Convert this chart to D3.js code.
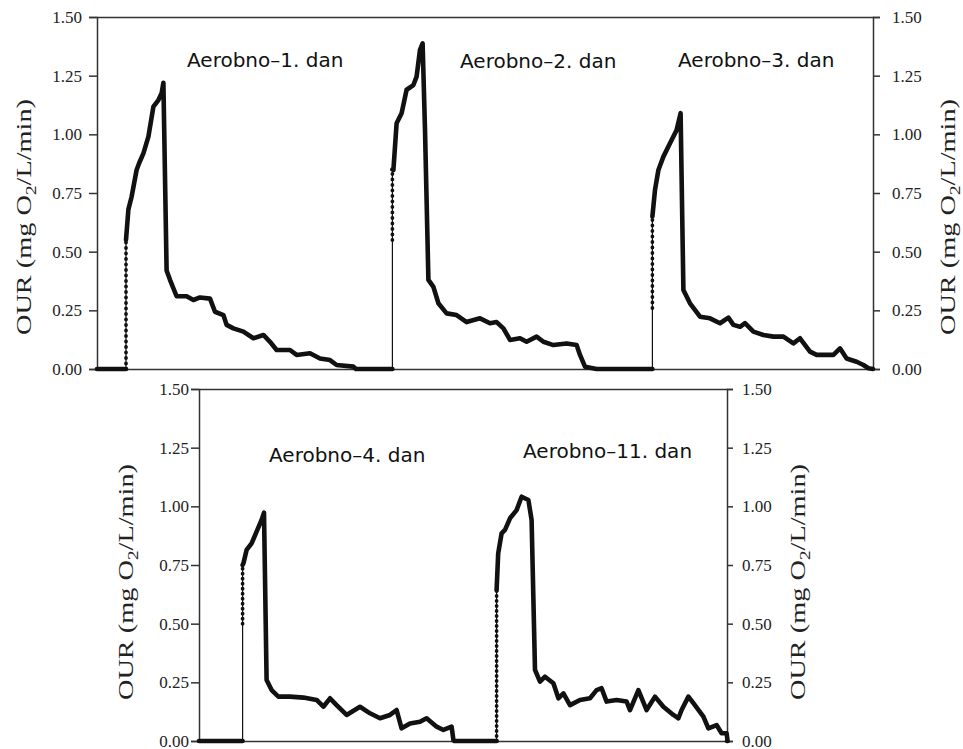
<!DOCTYPE html>
<html>
<head>
<meta charset="utf-8">
<script src="https://cdn.jsdelivr.net/npm/d3@7"></script>
<style>
  html, body { margin: 0; padding: 0; background: #fff; }
  svg { display: block; }
</style>
</head>
<body>
<svg id="chart" width="963" height="749"></svg>
<script>
// ---------------- DATA ----------------
const yTickValues = [0, 0.25, 0.5, 0.75, 1.0, 1.25, 1.5];
const yLabel = "OUR (mg O";
const runLabels = ["Aerobno–1. dan", "Aerobno–2. dan", "Aerobno–3. dan", "Aerobno–4. dan", "Aerobno–11. dan"];

// time axis (arbitrary units) extents of each panel
const topTimeMax = 388;
const bottomTimeMax = 264;

// rise moments (vertical jumps) : time, top of thin part, top of dotted part
const topRiseTimes = [14.5, 147.7, 277.7];
const topRiseThin = [0, 0.55, 0.26];
const topRiseDots = [0.55, 0.85, 0.65];
const bottomRiseTimes = [21.8, 148.8];
const bottomRiseThin = [0.5, 0];
const bottomRiseDots = [0.75, 0.643];

// OUR series after each rise [time, value]
const run1 = [[15.7,0.68],[17.3,0.734],[19.8,0.848],[21.2,0.88],[23.2,0.919],[25.7,0.99],[28.2,1.118],[30.7,1.146],[32.3,1.175],[33.2,1.22],
  [34.8,0.42],[36.5,0.38],[39.8,0.31],[44.8,0.31],[48.2,0.294],[51.5,0.305],[56.5,0.30],[59,0.244],[63.2,0.23],[64.8,0.188],[68.2,0.173],
  [73.2,0.159],[78.2,0.131],[83.2,0.145],[86.5,0.116],[89.8,0.081],[96.5,0.081],[99.8,0.06],[106.5,0.067],[111.5,0.045],[116.5,0.038],
  [119.8,0.017],[128.2,0.01],[129.5,0]];
const run2 = [[148.2,0.848],[149.8,1.047],[152.3,1.09],[154.8,1.19],[158.2,1.21],[159.8,1.246],[161.5,1.36],[162.8,1.388],[164,1.02],
  [165.7,0.38],[168.2,0.35],[170.7,0.28],[174.8,0.237],[179.8,0.23],[184.8,0.20],[191.5,0.216],[196.5,0.195],[199.8,0.20],[203.2,0.173],
  [206.5,0.124],[211.5,0.131],[214.8,0.116],[219.8,0.138],[223.2,0.116],[228.2,0.102],[234.8,0.109],[239.8,0.102],[241.5,0.06],[244,0.01],[249.8,0]];
const run3 = [[279,0.763],[280.7,0.848],[283.2,0.905],[286.5,0.962],[289.8,1.018],[291.8,1.09],[293.2,0.337],[296.5,0.28],[301.5,0.223],
  [306.5,0.216],[311.5,0.195],[315.7,0.219],[318.2,0.188],[321.5,0.18],[324,0.195],[328.2,0.159],[333.2,0.145],[338.2,0.138],[343.2,0.138],
  [348.2,0.109],[351.5,0.131],[356.5,0.074],[359.8,0.06],[364.8,0.06],[368.2,0.06],[371.5,0.088],[374.8,0.045],[379.8,0.031],[383.2,0.017],
  [385.7,0.003],[388,0]];
const run4 = [[22.2,0.757],[23.8,0.814],[26.3,0.842],[28.8,0.892],[31.3,0.942],[32.5,0.973],[33.8,0.26],[36.3,0.217],[39.7,0.189],
  [45.5,0.189],[52.2,0.185],[58.8,0.175],[62.2,0.146],[65.5,0.182],[68.8,0.153],[73.8,0.111],[80.5,0.146],[85.5,0.118],[90.5,0.097],
  [95.5,0.111],[98.8,0.132],[101.3,0.054],[105.5,0.075],[110.5,0.082],[113.8,0.097],[118.8,0.061],[122.2,0.047],[126.3,0.061],[127.2,0.004]];
const run5 = [[149.6,0.80],[151.3,0.885],[153,0.90],[155.5,0.949],[158.8,0.984],[161.3,1.041],[164.7,1.027],[166.3,0.942],[168,0.303],
  [170.5,0.253],[173,0.274],[177.2,0.246],[179.7,0.182],[182.2,0.203],[185.5,0.153],[190.5,0.175],[195.5,0.182],[198.8,0.217],[201.3,0.225],
  [203.8,0.168],[208.8,0.175],[213.8,0.168],[215.5,0.132],[219.7,0.217],[223.8,0.132],[228,0.189],[232.2,0.146],[237.2,0.111],[239.7,0.097],
  [241.3,0.132],[244.7,0.189],[247.2,0.161],[252.2,0.104],[254.7,0.054],[258.8,0.068],[261.3,0.033],[263.8,0.033]];

// ---------------- DRAW ----------------
const svg = d3.select("#chart");
const serif = "'Liberation Serif', 'Times New Roman', serif";
const sans = "'DejaVu Sans', Verdana, Tahoma, sans-serif";

function panel(cfg) {
  const x = d3.scaleLinear().domain([0, cfg.tMax]).range([cfg.left, cfg.right]);
  const y = d3.scaleLinear().domain([0, 1.5]).range([cfg.bottom, cfg.top]);
  const g = svg.append("g");
  const fmt = d3.format(".2f");

  g.append("rect").attr("x", cfg.left).attr("y", cfg.top)
    .attr("width", cfg.right - cfg.left).attr("height", cfg.bottom - cfg.top).attr("fill", "#fff");

  const styleAxis = sel => {
    sel.selectAll("path.domain").attr("stroke", "#333").attr("stroke-width", 1.5);
    sel.selectAll(".tick line").attr("stroke", "#333").attr("stroke-width", 1.5);
    sel.selectAll(".tick text").attr("font-family", serif).attr("font-size", 17).attr("fill", "#222");
    sel.attr("font-family", null).attr("font-size", null);
  };

  g.append("g").attr("transform", `translate(0,${cfg.bottom})`)
    .call(d3.axisBottom(x).tickValues([]).tickSizeOuter(0)).call(styleAxis);
  g.append("g").attr("transform", `translate(0,${cfg.top})`)
    .call(d3.axisTop(x).tickValues([]).tickSizeOuter(0)).call(styleAxis);
  g.append("g").attr("transform", `translate(${cfg.left},0)`)
    .call(d3.axisLeft(y).tickValues(yTickValues).tickFormat(fmt).tickSizeOuter(0)
      .tickSize(cfg.tickL).tickPadding(cfg.padL)).call(styleAxis);
  g.append("g").attr("transform", `translate(${cfg.right},0)`)
    .call(d3.axisRight(y).tickValues(yTickValues).tickFormat(fmt).tickSizeOuter(0)
      .tickSize(cfg.tickR).tickPadding(cfg.padR)).call(styleAxis);

  // axis titles
  [cfg.labelL, cfg.labelR].forEach(bx => {
    const t = g.append("text")
      .attr("transform", `translate(${bx},${cfg.labelY}) rotate(-90)`)
      .attr("text-anchor", "middle")
      .attr("textLength", 236).attr("lengthAdjust", "spacingAndGlyphs")
      .attr("font-family", serif).attr("font-size", 22).attr("fill", "#222");
    t.append("tspan").text(yLabel);
    t.append("tspan").text("2").attr("font-size", 15).attr("dy", 5);
    t.append("tspan").text("/L/min)").attr("dy", -5);
  });

  // rises: thin line + dotted part
  cfg.riseTimes.forEach((t, i) => {
    g.append("line").attr("x1", x(t)).attr("x2", x(t))
      .attr("y1", y(0)).attr("y2", y(cfg.riseDots[i]))
      .attr("stroke", "#111").attr("stroke-width", 1.2);
    g.append("line").attr("x1", x(t)).attr("x2", x(t))
      .attr("y1", y(cfg.riseThin[i])).attr("y2", y(cfg.riseDots[i]))
      .attr("stroke", "#111").attr("stroke-width", 3.8)
      .attr("stroke-linecap", "round").attr("stroke-dasharray", "0," + cfg.dotGap);
  });

  // thick curve segments
  const segs = [];
  segs.push([[0, 0], [cfg.riseTimes[0], 0]]);
  cfg.runs.forEach((run, i) => {
    const s = [[cfg.riseTimes[i], cfg.riseDots[i]], ...run];
    const last = run[run.length - 1];
    const nextT = i + 1 < cfg.riseTimes.length ? cfg.riseTimes[i + 1] : cfg.tMax;
    if (last[1] !== 0 || last[0] < nextT) {
      s.push([last[0] + 0.5, 0]);
      s.push([nextT, 0]);
    }
    segs.push(s);
  });
  const line = d3.line().x(d => x(d[0])).y(d => y(d[1])).curve(d3.curveLinear);
  g.selectAll("path.seg").data(segs).join("path").attr("class", "seg")
    .attr("d", line).attr("fill", "none").attr("stroke", "#111")
    .attr("stroke-width", 4.6).attr("stroke-linejoin", "round").attr("stroke-linecap", "round");

  // run labels
  cfg.labels.forEach((lab, i) => {
    g.append("text").attr("x", cfg.labelPos[i][0]).attr("y", cfg.labelPos[i][1])
      .attr("font-family", sans).attr("font-size", 20).attr("fill", "#111").text(lab);
  });
}

panel({
  tMax: topTimeMax, left: 97, right: 873, top: 17, bottom: 369,
  tickL: 8, padL: 7, tickR: 7, padR: 12,
  labelL: 31, labelR: 955, labelY: 217,
  riseTimes: topRiseTimes, riseThin: topRiseThin, riseDots: topRiseDots, dotGap: 5.5,
  runs: [run1, run2, run3],
  labels: runLabels.slice(0, 3), labelPos: [[187, 67], [460, 68], [678, 67]]
});

panel({
  tMax: bottomTimeMax, left: 199, right: 727, top: 389, bottom: 741,
  tickL: 8, padL: 2, tickR: 6, padR: 9,
  labelL: 133, labelR: 805, labelY: 582,
  riseTimes: bottomRiseTimes, riseThin: bottomRiseThin, riseDots: bottomRiseDots, dotGap: 5,
  runs: [run4, run5],
  labels: runLabels.slice(3), labelPos: [[269, 462], [523, 458]]
});
</script>
</body>
</html>
